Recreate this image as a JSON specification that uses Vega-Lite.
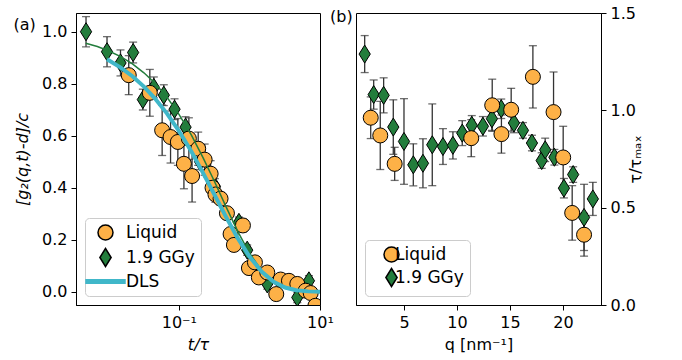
{
  "$schema": "https://vega.github.io/schema/vega-lite/v6.json",
  "background": "white",
  "padding": {"left": 13, "top": 4, "right": 5, "bottom": 5},
  "config": {
    "font": "DejaVu Sans",
    "view": {"stroke": "black", "strokeWidth": 1},
    "axis": {"labelFont": "DejaVu Sans", "labelFontSize": 16, "labelColor": "black", "titleFont": "DejaVu Sans", "titleFontSize": 16, "titleFontWeight": "normal", "titleColor": "black", "domainColor": "black", "tickColor": "black", "tickSize": 5, "grid": false, "labelPadding": 4, "titlePadding": 6, "labelFlush": false, "labelOverlap": false},
    "legend": {"labelFont": "DejaVu Sans", "labelFontSize": 17, "labelColor": "black", "fillColor": "white", "strokeColor": "#cccccc", "cornerRadius": 4, "title": null, "symbolSize": 225}
  },
  "datasets": {
    "a_pts": [
      {"series": "1.9 GGy", "t": 0.00484, "y": 1.0, "err": 0.058},
      {"series": "1.9 GGy", "t": 0.0096, "y": 0.923, "err": 0.058},
      {"series": "1.9 GGy", "t": 0.0149, "y": 0.88, "err": 0.05},
      {"series": "1.9 GGy", "t": 0.0225, "y": 0.92, "err": 0.04},
      {"series": "1.9 GGy", "t": 0.0309, "y": 0.739, "err": 0.04},
      {"series": "1.9 GGy", "t": 0.0442, "y": 0.786, "err": 0.04},
      {"series": "1.9 GGy", "t": 0.0612, "y": 0.756, "err": 0.04},
      {"series": "1.9 GGy", "t": 0.0869, "y": 0.702, "err": 0.04},
      {"series": "1.9 GGy", "t": 0.1245, "y": 0.633, "err": 0.04},
      {"series": "1.9 GGy", "t": 0.2, "y": 0.5, "err": 0.03},
      {"series": "1.9 GGy", "t": 0.324, "y": 0.405, "err": 0.03},
      {"series": "1.9 GGy", "t": 0.71, "y": 0.267, "err": 0.02},
      {"series": "1.9 GGy", "t": 0.93, "y": 0.16, "err": 0.02},
      {"series": "1.9 GGy", "t": 1.79, "y": 0.03, "err": 0.02},
      {"series": "1.9 GGy", "t": 4.77, "y": -0.022, "err": 0.02},
      {"series": "1.9 GGy", "t": 6.97, "y": 0.042, "err": 0.02},
      {"series": "Liquid", "t": 0.0195, "y": 0.833, "err": 0.075},
      {"series": "Liquid", "t": 0.0388, "y": 0.765, "err": 0.09},
      {"series": "Liquid", "t": 0.058, "y": 0.621, "err": 0.097},
      {"series": "Liquid", "t": 0.0763, "y": 0.595, "err": 0.1},
      {"series": "Liquid", "t": 0.0968, "y": 0.576, "err": 0.09},
      {"series": "Liquid", "t": 0.118, "y": 0.492, "err": 0.096},
      {"series": "Liquid", "t": 0.1387, "y": 0.589, "err": 0.08},
      {"series": "Liquid", "t": 0.154, "y": 0.445, "err": 0.1},
      {"series": "Liquid", "t": 0.188, "y": 0.55, "err": 0.064},
      {"series": "Liquid", "t": 0.232, "y": 0.508, "err": 0.06},
      {"series": "Liquid", "t": 0.282, "y": 0.454, "err": 0.05},
      {"series": "Liquid", "t": 0.3, "y": 0.4, "err": 0.03},
      {"series": "Liquid", "t": 0.33, "y": 0.374, "err": 0.03},
      {"series": "Liquid", "t": 0.39, "y": 0.358, "err": 0.025},
      {"series": "Liquid", "t": 0.48, "y": 0.302, "err": 0.02},
      {"series": "Liquid", "t": 0.541, "y": 0.222, "err": 0.02},
      {"series": "Liquid", "t": 0.603, "y": 0.18, "err": 0.02},
      {"series": "Liquid", "t": 0.809, "y": 0.255, "err": 0.025},
      {"series": "Liquid", "t": 0.984, "y": 0.091, "err": 0.015},
      {"series": "Liquid", "t": 1.197, "y": 0.113, "err": 0.015},
      {"series": "Liquid", "t": 1.36, "y": 0.055, "err": 0.015},
      {"series": "Liquid", "t": 1.79, "y": 0.074, "err": 0.015},
      {"series": "Liquid", "t": 2.4, "y": -0.009, "err": 0.01},
      {"series": "Liquid", "t": 2.77, "y": 0.047, "err": 0.01},
      {"series": "Liquid", "t": 3.63, "y": 0.042, "err": 0.01},
      {"series": "Liquid", "t": 4.77, "y": 0.03, "err": 0.01},
      {"series": "Liquid", "t": 6.26, "y": 0.004, "err": 0.01},
      {"series": "Liquid", "t": 7.38, "y": -0.005, "err": 0.01},
      {"series": "Liquid", "t": 8.6, "y": -0.054, "err": 0.01}
    ],
    "a_fit": [
      {"series": "DLS", "t": 0.0096, "y": 0.894},
      {"series": "DLS", "t": 0.015, "y": 0.862},
      {"series": "DLS", "t": 0.022, "y": 0.829},
      {"series": "DLS", "t": 0.032, "y": 0.789},
      {"series": "DLS", "t": 0.046, "y": 0.743},
      {"series": "DLS", "t": 0.068, "y": 0.685},
      {"series": "DLS", "t": 0.1, "y": 0.619},
      {"series": "DLS", "t": 0.15, "y": 0.54},
      {"series": "DLS", "t": 0.22, "y": 0.457},
      {"series": "DLS", "t": 0.32, "y": 0.373},
      {"series": "DLS", "t": 0.46, "y": 0.291},
      {"series": "DLS", "t": 0.68, "y": 0.207},
      {"series": "DLS", "t": 1.0, "y": 0.135},
      {"series": "DLS", "t": 1.5, "y": 0.0764},
      {"series": "DLS", "t": 2.2, "y": 0.0383},
      {"series": "DLS", "t": 3.2, "y": 0.0163},
      {"series": "DLS", "t": 4.6, "y": 0.0058},
      {"series": "DLS", "t": 6.8, "y": 0.0014},
      {"series": "DLS", "t": 10, "y": 0.0002},
      {"series": "GGy fit", "t": 0.0048, "y": 0.956},
      {"series": "GGy fit", "t": 0.007, "y": 0.943},
      {"series": "GGy fit", "t": 0.01, "y": 0.927},
      {"series": "GGy fit", "t": 0.015, "y": 0.904},
      {"series": "GGy fit", "t": 0.022, "y": 0.876},
      {"series": "GGy fit", "t": 0.032, "y": 0.842},
      {"series": "GGy fit", "t": 0.046, "y": 0.802},
      {"series": "GGy fit", "t": 0.068, "y": 0.748},
      {"series": "GGy fit", "t": 0.1, "y": 0.683},
      {"series": "GGy fit", "t": 0.15, "y": 0.603},
      {"series": "GGy fit", "t": 0.22, "y": 0.516},
      {"series": "GGy fit", "t": 0.32, "y": 0.424},
      {"series": "GGy fit", "t": 0.46, "y": 0.33},
      {"series": "GGy fit", "t": 0.68, "y": 0.233},
      {"series": "GGy fit", "t": 1.0, "y": 0.149},
      {"series": "GGy fit", "t": 1.5, "y": 0.0794},
      {"series": "GGy fit", "t": 2.2, "y": 0.0364},
      {"series": "GGy fit", "t": 3.2, "y": 0.0135},
      {"series": "GGy fit", "t": 4.6, "y": 0.0039},
      {"series": "GGy fit", "t": 6.8, "y": 0.0007},
      {"series": "GGy fit", "t": 10, "y": 0.0001}
    ],
    "b_pts": [
      {"series": "1.9 GGy", "q": 1.29, "y": 1.289, "err": 0.095},
      {"series": "1.9 GGy", "q": 2.14, "y": 1.081, "err": 0.075},
      {"series": "1.9 GGy", "q": 3.08, "y": 1.077, "err": 0.09},
      {"series": "1.9 GGy", "q": 3.99, "y": 0.914, "err": 0.14},
      {"series": "1.9 GGy", "q": 5.0, "y": 0.84, "err": 0.22},
      {"series": "1.9 GGy", "q": 5.88, "y": 0.72, "err": 0.108},
      {"series": "1.9 GGy", "q": 6.79, "y": 0.728, "err": 0.126},
      {"series": "1.9 GGy", "q": 7.67, "y": 0.823, "err": 0.21},
      {"series": "1.9 GGy", "q": 8.68, "y": 0.814, "err": 0.092},
      {"series": "1.9 GGy", "q": 9.62, "y": 0.82, "err": 0.07},
      {"series": "1.9 GGy", "q": 10.5, "y": 0.883, "err": 0.064},
      {"series": "1.9 GGy", "q": 11.4, "y": 0.923, "err": 0.05},
      {"series": "1.9 GGy", "q": 12.45, "y": 0.918, "err": 0.05},
      {"series": "1.9 GGy", "q": 13.3, "y": 0.957, "err": 0.06},
      {"series": "1.9 GGy", "q": 14.18, "y": 1.008, "err": 0.05},
      {"series": "1.9 GGy", "q": 15.38, "y": 0.935, "err": 0.05},
      {"series": "1.9 GGy", "q": 16.23, "y": 0.897, "err": 0.04},
      {"series": "1.9 GGy", "q": 17.08, "y": 0.832, "err": 0.04},
      {"series": "1.9 GGy", "q": 18.0, "y": 0.742, "err": 0.04},
      {"series": "1.9 GGy", "q": 18.33, "y": 0.797, "err": 0.06},
      {"series": "1.9 GGy", "q": 19.2, "y": 0.759, "err": 0.04},
      {"series": "1.9 GGy", "q": 20.1, "y": 0.6, "err": 0.05},
      {"series": "1.9 GGy", "q": 20.97, "y": 0.67, "err": 0.04},
      {"series": "1.9 GGy", "q": 22.0, "y": 0.45, "err": 0.17},
      {"series": "1.9 GGy", "q": 22.83, "y": 0.545, "err": 0.085},
      {"series": "Liquid", "q": 1.86, "y": 0.962, "err": 0.107},
      {"series": "Liquid", "q": 2.76, "y": 0.871, "err": 0.175},
      {"series": "Liquid", "q": 4.12, "y": 0.725, "err": 0.085},
      {"series": "Liquid", "q": 11.35, "y": 0.857, "err": 0.095},
      {"series": "Liquid", "q": 13.33, "y": 1.026, "err": 0.134},
      {"series": "Liquid", "q": 14.2, "y": 0.878, "err": 0.098},
      {"series": "Liquid", "q": 15.12, "y": 1.003, "err": 0.11},
      {"series": "Liquid", "q": 17.17, "y": 1.172, "err": 0.16},
      {"series": "Liquid", "q": 19.12, "y": 0.991, "err": 0.206},
      {"series": "Liquid", "q": 20.03, "y": 0.758, "err": 0.16},
      {"series": "Liquid", "q": 20.88, "y": 0.473, "err": 0.14},
      {"series": "Liquid", "q": 22.0, "y": 0.361, "err": 0.11}
    ]
  },
  "hconcat": [
    {
      "width": 244,
      "height": 292,
      "title": {"text": "(a)", "anchor": "start", "frame": "bounds", "offset": -20, "dx": -1, "fontSize": 16, "fontWeight": "normal", "font": "DejaVu Sans", "color": "black"},
      "encoding": {
        "x": {"field": "t", "type": "quantitative", "scale": {"type": "log", "domain": [0.00349, 10], "nice": false}, "axis": {"values": [0.1, 10], "labelExpr": "datum.value < 1 ? '10⁻¹' : '10¹'", "title": "t/τ", "titleFontStyle": "italic"}},
        "y": {"field": "y", "type": "quantitative", "scale": {"domain": [-0.051, 1.072], "nice": false, "zero": false}, "axis": {"values": [0, 0.2, 0.4, 0.6, 0.8, 1.0], "format": ".1f", "title": "[g₂(q,t)-d]/c", "titleFontStyle": "italic", "titlePadding": 11}}
      },
      "layer": [
        {
          "data": {"name": "a_pts"},
          "mark": {"type": "errorbar", "ticks": {"size": 8}, "color": "#333333", "thickness": 1.3, "clip": true},
          "encoding": {"yError": {"field": "err"}}
        },
        {
          "data": {"name": "a_pts"},
          "mark": {"type": "point", "filled": true, "strokeWidth": 1, "size": 225, "opacity": 1, "clip": true},
          "encoding": {
            "color": {"field": "series", "type": "nominal", "scale": {"domain": ["Liquid", "1.9 GGy", "DLS"], "range": ["#fdb147", "#237d3c", "#40b7c9"]},
              "legend": {"orient": "bottom-left", "offset": 9, "padding": 6, "rowPadding": 2, "symbolOffset": 6, "labelOffset": 12}},
            "shape": {"field": "series", "type": "nominal", "scale": {"domain": ["Liquid", "1.9 GGy", "DLS"], "range": ["circle", "M0,-1.2L0.75,0L0,1.2L-0.75,0Z", "M-2.6,-0.22L2.6,-0.22L2.6,0.22L-2.6,0.22Z"]}, "legend": null},
            "stroke": {"field": "series", "type": "nominal", "scale": {"domain": ["Liquid", "1.9 GGy", "DLS"], "range": ["black", "black", "#40b7c9"]}, "legend": null}
          }
        },
        {
          "data": {"name": "a_fit"},
          "transform": [{"filter": "datum.series === 'GGy fit'"}],
          "mark": {"type": "line", "color": "#237d3c", "strokeWidth": 1.5, "clip": true},
          "encoding": {}
        },
        {
          "data": {"name": "a_fit"},
          "transform": [{"filter": "datum.series === 'DLS'"}],
          "mark": {"type": "line", "color": "#40b7c9", "strokeWidth": 4, "clip": true},
          "encoding": {}
        }
      ]
    },
    {
      "width": 245,
      "height": 292,
      "title": {"text": "(b)", "anchor": "start", "frame": "bounds", "offset": -20, "dx": -26, "fontSize": 16, "fontWeight": "normal", "font": "DejaVu Sans", "color": "black"},
      "data": {"name": "b_pts"},
      "encoding": {
        "x": {"field": "q", "type": "quantitative", "scale": {"domain": [0.47, 23.6], "nice": false, "zero": false}, "axis": {"values": [5, 10, 15, 20], "title": "q [nm⁻¹]"}},
        "y": {"field": "y", "type": "quantitative", "scale": {"domain": [0, 1.5], "nice": false}, "axis": {"orient": "right", "values": [0, 0.5, 1.0, 1.5], "format": ".1f", "title": "τ/τₘₐₓ", "titleAngle": 270, "titlePadding": 8}}
      },
      "layer": [
        {
          "mark": {"type": "errorbar", "ticks": {"size": 8}, "color": "#333333", "thickness": 1.3},
          "encoding": {"yError": {"field": "err"}}
        },
        {
          "mark": {"type": "point", "filled": true, "stroke": "black", "strokeWidth": 1, "size": 225, "opacity": 1},
          "encoding": {
            "color": {"field": "series", "type": "nominal", "scale": {"domain": ["Liquid", "1.9 GGy"], "range": ["#fdb147", "#237d3c"]},
              "legend": {"orient": "bottom-left", "offset": 9, "padding": 6, "rowPadding": 0, "symbolOffset": 12, "labelOffset": -5}},
            "shape": {"field": "series", "type": "nominal", "scale": {"domain": ["Liquid", "1.9 GGy"], "range": ["circle", "M0,-1.2L0.75,0L0,1.2L-0.75,0Z"]}, "legend": null}
          }
        }
      ]
    }
  ],
  "spacing": -5,
  "resolve": {"scale": {"color": "independent", "shape": "independent", "stroke": "independent"}, "legend": {"color": "independent", "shape": "independent"}}
}
